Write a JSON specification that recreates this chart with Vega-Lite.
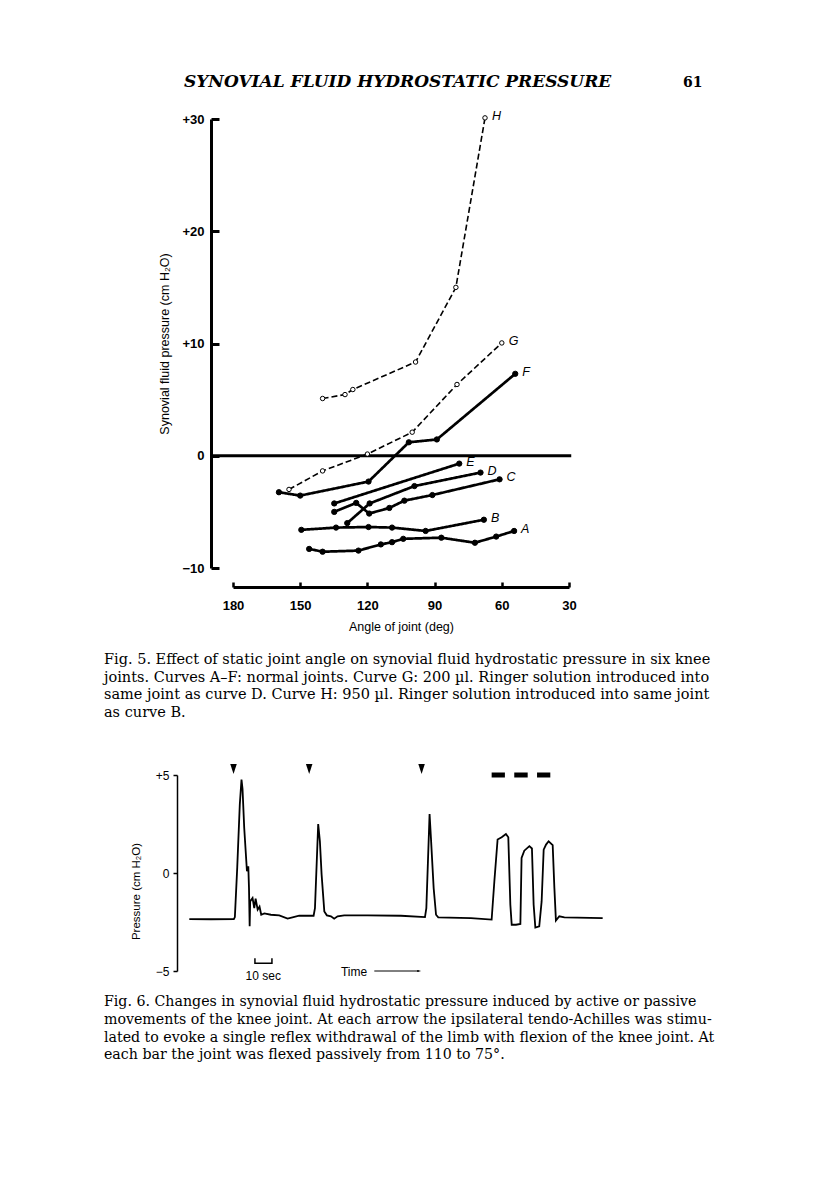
{
  "$schema": "https://vega.github.io/schema/vega-lite/v6.json",
  "background": "white",
  "padding": {"left": 103, "top": 73, "right": 10, "bottom": 10},
  "bounds": "flush",
  "spacing": 207,
  "config": {
    "view": {"stroke": null},
    "axis": {"grid": false, "labelFont": "Liberation Sans", "titleFont": "Liberation Sans", "labelColor": "black", "titleColor": "black", "domainColor": "black", "tickColor": "black", "titleFontWeight": "normal", "labelFlush": false},
    "text": {"font": "Liberation Sans", "color": "black"}
  },
  "datasets": {
    "one": [{"k": 1}],
    "curves": [
      {"curve": "A", "group": "normal", "angle": 146, "pressure": -8.3},
      {"curve": "A", "group": "normal", "angle": 140, "pressure": -8.55},
      {"curve": "A", "group": "normal", "angle": 124, "pressure": -8.45},
      {"curve": "A", "group": "normal", "angle": 114, "pressure": -7.9},
      {"curve": "A", "group": "normal", "angle": 109, "pressure": -7.7},
      {"curve": "A", "group": "normal", "angle": 104, "pressure": -7.4},
      {"curve": "A", "group": "normal", "angle": 87, "pressure": -7.3},
      {"curve": "A", "group": "normal", "angle": 72, "pressure": -7.75},
      {"curve": "A", "group": "normal", "angle": 62.5, "pressure": -7.2},
      {"curve": "A", "group": "normal", "angle": 54.5, "pressure": -6.7},
      {"curve": "B", "group": "normal", "angle": 149.5, "pressure": -6.6},
      {"curve": "B", "group": "normal", "angle": 134, "pressure": -6.4},
      {"curve": "B", "group": "normal", "angle": 119.5, "pressure": -6.35},
      {"curve": "B", "group": "normal", "angle": 109, "pressure": -6.4},
      {"curve": "B", "group": "normal", "angle": 94, "pressure": -6.7},
      {"curve": "B", "group": "normal", "angle": 68, "pressure": -5.7},
      {"curve": "C", "group": "normal", "angle": 134.8, "pressure": -5.0},
      {"curve": "C", "group": "normal", "angle": 125, "pressure": -4.2},
      {"curve": "C", "group": "normal", "angle": 119.2, "pressure": -5.15},
      {"curve": "C", "group": "normal", "angle": 110.2, "pressure": -4.65},
      {"curve": "C", "group": "normal", "angle": 103.5, "pressure": -4.0},
      {"curve": "C", "group": "normal", "angle": 91, "pressure": -3.5},
      {"curve": "C", "group": "normal", "angle": 61, "pressure": -2.1},
      {"curve": "D", "group": "normal", "angle": 129, "pressure": -6.0},
      {"curve": "D", "group": "normal", "angle": 119, "pressure": -4.25},
      {"curve": "D", "group": "normal", "angle": 99, "pressure": -2.7},
      {"curve": "D", "group": "normal", "angle": 69.5, "pressure": -1.5},
      {"curve": "E", "group": "normal", "angle": 134.8, "pressure": -4.25},
      {"curve": "E", "group": "normal", "angle": 79, "pressure": -0.7},
      {"curve": "F", "group": "normal", "angle": 159.5, "pressure": -3.25},
      {"curve": "F", "group": "normal", "angle": 150, "pressure": -3.55},
      {"curve": "F", "group": "normal", "angle": 119.5, "pressure": -2.3},
      {"curve": "F", "group": "normal", "angle": 101.5, "pressure": 1.2},
      {"curve": "F", "group": "normal", "angle": 89, "pressure": 1.45},
      {"curve": "F", "group": "normal", "angle": 54, "pressure": 7.3},
      {"curve": "G", "group": "Ringer", "angle": 155, "pressure": -3.0},
      {"curve": "G", "group": "Ringer", "angle": 140, "pressure": -1.35},
      {"curve": "G", "group": "Ringer", "angle": 120, "pressure": 0.15},
      {"curve": "G", "group": "Ringer", "angle": 100, "pressure": 2.1},
      {"curve": "G", "group": "Ringer", "angle": 80, "pressure": 6.35},
      {"curve": "G", "group": "Ringer", "angle": 60, "pressure": 10.05},
      {"curve": "H", "group": "Ringer", "angle": 140, "pressure": 5.1},
      {"curve": "H", "group": "Ringer", "angle": 130, "pressure": 5.45},
      {"curve": "H", "group": "Ringer", "angle": 126.5, "pressure": 5.9},
      {"curve": "H", "group": "Ringer", "angle": 98.5, "pressure": 8.35},
      {"curve": "H", "group": "Ringer", "angle": 80.5, "pressure": 15.0},
      {"curve": "H", "group": "Ringer", "angle": 67.5, "pressure": 30.1}
    ],
    "trace": [
      {"t": 7.3, "p": -2.35}, {"t": 20, "p": -2.36}, {"t": 33.5, "p": -2.35}, {"t": 34.1, "p": -2.25},
      {"t": 35.5, "p": 0.3}, {"t": 37, "p": 3.5}, {"t": 38, "p": 4.77}, {"t": 38.6, "p": 4.3},
      {"t": 39.6, "p": 2.3}, {"t": 41.2, "p": 0.09}, {"t": 42, "p": 0.34}, {"t": 42.4, "p": -0.76},
      {"t": 42.8, "p": -2.72}, {"t": 43.1, "p": -1.45}, {"t": 44.5, "p": -1.28}, {"t": 45.5, "p": -1.79},
      {"t": 46.3, "p": -1.31}, {"t": 47.5, "p": -1.87}, {"t": 48.6, "p": -1.72}, {"t": 49.6, "p": -2.13},
      {"t": 51.4, "p": -2.06}, {"t": 55.3, "p": -2.13}, {"t": 60.2, "p": -2.16}, {"t": 65.1, "p": -2.33},
      {"t": 68, "p": -2.26}, {"t": 71.9, "p": -2.18}, {"t": 80.4, "p": -2.18}, {"t": 81.2, "p": -1.79},
      {"t": 83.1, "p": 2.5}, {"t": 84.1, "p": 1.62}, {"t": 85.1, "p": -0.07}, {"t": 86.7, "p": -1.96},
      {"t": 88.2, "p": -2.16}, {"t": 90.6, "p": -2.21}, {"t": 92.5, "p": -2.33}, {"t": 94.5, "p": -2.21},
      {"t": 98.4, "p": -2.16}, {"t": 112.2, "p": -2.16}, {"t": 131.8, "p": -2.18}, {"t": 145.9, "p": -2.25},
      {"t": 146.7, "p": -1.79}, {"t": 148.6, "p": 3.01}, {"t": 149.4, "p": 1.79}, {"t": 151, "p": -0.77},
      {"t": 152.4, "p": -2.13}, {"t": 153.7, "p": -2.26}, {"t": 172.9, "p": -2.3}, {"t": 185.1, "p": -2.38},
      {"t": 186.7, "p": -0.42}, {"t": 188.6, "p": 1.71}, {"t": 191, "p": 1.82}, {"t": 193.5, "p": 1.99},
      {"t": 194.9, "p": 1.82}, {"t": 196.1, "p": -1.62}, {"t": 196.9, "p": -2.64}, {"t": 199.4, "p": -2.64},
      {"t": 202, "p": -2.6}, {"t": 202.7, "p": 0.77}, {"t": 204.3, "p": 1.14}, {"t": 207.3, "p": 1.37},
      {"t": 208.8, "p": 1.25}, {"t": 209.8, "p": -1.62}, {"t": 210.8, "p": -2.78}, {"t": 213.1, "p": -2.72},
      {"t": 214.5, "p": -1.45}, {"t": 215.7, "p": 1.19}, {"t": 217.1, "p": 1.45}, {"t": 218.6, "p": 1.62},
      {"t": 221, "p": 1.42}, {"t": 222, "p": -0.77}, {"t": 222.9, "p": -2.43}, {"t": 224.9, "p": -2.21},
      {"t": 227.9, "p": -2.26}, {"t": 250.4, "p": -2.3}
    ],
    "arrows": [{"t": 33.3}, {"t": 77.8}, {"t": 143.9}],
    "bars": [{"t": 185.1, "t2": 192.9}, {"t": 198.4, "t2": 206.3}, {"t": 211.8, "t2": 219.6}],
    "scalebar": [
      {"i": 0, "t": 45.9, "p": -4.35}, {"i": 1, "t": 45.9, "p": -4.6},
      {"i": 2, "t": 55.9, "p": -4.6}, {"i": 3, "t": 55.9, "p": -4.35}
    ]
  },
  "vconcat": [
    {
      "width": 336,
      "height": 449,
      "layer": [
        {
          "data": {"name": "one"},
          "mark": {"type": "rule", "strokeWidth": 3, "color": "black"},
          "encoding": {
            "x": {"datum": 190, "type": "quantitative", "scale": {"domain": [30, 180], "reverse": true}},
            "x2": {"datum": 29},
            "y": {"datum": 0, "type": "quantitative", "scale": {"domain": [-10, 30]}}
          }
        },
        {
          "data": {"name": "curves"},
          "mark": {"type": "line", "color": "black"},
          "encoding": {
            "x": {"field": "angle", "type": "quantitative", "scale": {"domain": [30, 180], "reverse": true},
                  "axis": {"values": [180, 150, 120, 90, 60, 30], "title": "Angle of joint (deg)", "offset": 19,
                           "domainWidth": 3, "tickWidth": 2.5, "tickSize": -5, "labelPadding": 17,
                           "labelFontSize": 13, "labelFontWeight": "bold", "titleFontSize": 12.5, "titlePadding": 8}},
            "y": {"field": "pressure", "type": "quantitative", "scale": {"domain": [-10, 30]},
                  "axis": {"values": [-10, 0, 10, 20, 30], "title": "Synovial fluid pressure (cm H₂O)", "offset": 22,
                           "labelExpr": "datum.value > 0 ? '+' + datum.value : (datum.value < 0 ? '−' + abs(datum.value) : '0')",
                           "domainWidth": 3, "tickWidth": 3, "tickSize": -8, "labelPadding": 15,
                           "labelFontSize": 13, "labelFontWeight": "bold", "titleFontSize": 12.5, "titlePadding": 10}},
            "detail": {"field": "curve"},
            "strokeDash": {"field": "group", "type": "nominal", "scale": {"domain": ["normal", "Ringer"], "range": [[1, 0], [6, 3]]}, "legend": null},
            "strokeWidth": {"field": "group", "type": "nominal", "scale": {"domain": ["normal", "Ringer"], "range": [2.7, 1.6]}, "legend": null}
          }
        },
        {
          "data": {"name": "curves"},
          "mark": {"type": "point", "stroke": "black", "strokeWidth": 1, "opacity": 1},
          "encoding": {
            "x": {"field": "angle", "type": "quantitative", "scale": {"domain": [30, 180], "reverse": true}},
            "y": {"field": "pressure", "type": "quantitative", "scale": {"domain": [-10, 30]}},
            "fill": {"field": "group", "type": "nominal", "scale": {"domain": ["normal", "Ringer"], "range": ["black", "white"]}, "legend": null},
            "size": {"field": "group", "type": "nominal", "scale": {"domain": ["normal", "Ringer"], "range": [28, 20]}, "legend": null}
          }
        },
        {
          "data": {"name": "curves"},
          "transform": [
            {"joinaggregate": [{"op": "min", "field": "angle", "as": "minAngle"}], "groupby": ["curve"]},
            {"filter": "datum.angle === datum.minAngle"}
          ],
          "mark": {"type": "text", "align": "left", "baseline": "middle", "dx": 7, "dy": -2, "fontSize": 12.5, "fontStyle": "italic"},
          "encoding": {
            "x": {"field": "angle", "type": "quantitative", "scale": {"domain": [30, 180], "reverse": true}},
            "y": {"field": "pressure", "type": "quantitative", "scale": {"domain": [-10, 30]}},
            "text": {"field": "curve"}
          }
        },
        {
          "data": {"name": "one"},
          "mark": {"type": "text", "align": "left", "baseline": "alphabetic", "font": "DejaVu Serif", "fontSize": 17, "fontStyle": "italic", "fontWeight": "bold"},
          "encoding": {
            "x": {"datum": 201.9, "type": "quantitative", "scale": {"domain": [30, 180], "reverse": true}},
            "y": {"datum": 32.85, "type": "quantitative", "scale": {"domain": [-10, 30]}},
            "text": {"value": "SYNOVIAL FLUID HYDROSTATIC PRESSURE"}
          }
        },
        {
          "data": {"name": "one"},
          "mark": {"type": "text", "align": "left", "baseline": "alphabetic", "font": "DejaVu Serif", "fontSize": 14, "fontWeight": "bold"},
          "encoding": {
            "x": {"datum": -20.9, "type": "quantitative", "scale": {"domain": [30, 180], "reverse": true}},
            "y": {"datum": 32.85, "type": "quantitative", "scale": {"domain": [-10, 30]}},
            "text": {"value": "61"}
          }
        },
        {
          "data": {"name": "one"},
          "mark": {"type": "text", "align": "left", "baseline": "alphabetic", "font": "DejaVu Serif", "fontSize": 14.5, "lineHeight": 17.6, "lineBreak": "\n"},
          "encoding": {
            "x": {"datum": 237.6, "type": "quantitative", "scale": {"domain": [30, 180], "reverse": true}},
            "y": {"datum": -18.57, "type": "quantitative", "scale": {"domain": [-10, 30]}},
            "text": {"value": "Fig. 5. Effect of static joint angle on synovial fluid hydrostatic pressure in six knee\njoints. Curves A–F: normal joints. Curve G: 200 µl. Ringer solution introduced into\nsame joint as curve D. Curve H: 950 µl. Ringer solution introduced into same joint\nas curve B."}
          }
        }
      ]
    },
    {
      "width": 369,
      "height": 196,
      "layer": [
        {
          "data": {"name": "trace"},
          "mark": {"type": "line", "color": "black", "strokeWidth": 1.8},
          "encoding": {
            "x": {"field": "t", "type": "quantitative", "scale": {"domain": [33, 250]}, "axis": null},
            "y": {"field": "p", "type": "quantitative", "scale": {"domain": [-5, 5]},
                  "axis": {"values": [-5, 0, 5], "title": "Pressure (cm H₂O)", "offset": 56,
                           "labelExpr": "datum.value > 0 ? '+' + datum.value : (datum.value < 0 ? '−' + abs(datum.value) : '0')",
                           "domainWidth": 1.5, "tickWidth": 1.5, "tickSize": 4, "labelPadding": 4,
                           "labelFontSize": 12, "titleFontSize": 11.5, "titlePadding": 14, "titleY": 116}}
          }
        },
        {
          "data": {"name": "arrows"},
          "mark": {"type": "point", "shape": "M-0.65,-1L0.65,-1L0,1Z", "filled": true, "color": "black", "size": 100, "opacity": 1},
          "encoding": {
            "x": {"field": "t", "type": "quantitative", "scale": {"domain": [33, 250]}},
            "y": {"datum": 5.3, "type": "quantitative", "scale": {"domain": [-5, 5]}}
          }
        },
        {
          "data": {"name": "bars"},
          "mark": {"type": "rule", "color": "black", "strokeWidth": 5},
          "encoding": {
            "x": {"field": "t", "type": "quantitative", "scale": {"domain": [33, 250]}},
            "x2": {"field": "t2"},
            "y": {"datum": 5.0, "type": "quantitative", "scale": {"domain": [-5, 5]}}
          }
        },
        {
          "data": {"name": "scalebar"},
          "mark": {"type": "line", "color": "black", "strokeWidth": 1.5},
          "encoding": {
            "x": {"field": "t", "type": "quantitative", "scale": {"domain": [33, 250]}},
            "y": {"field": "p", "type": "quantitative", "scale": {"domain": [-5, 5]}},
            "order": {"field": "i"}
          }
        },
        {
          "data": {"name": "one"},
          "mark": {"type": "text", "align": "center", "baseline": "middle", "fontSize": 12},
          "encoding": {
            "x": {"datum": 50.8, "type": "quantitative", "scale": {"domain": [33, 250]}},
            "y": {"datum": -5.23, "type": "quantitative", "scale": {"domain": [-5, 5]}},
            "text": {"value": "10 sec"}
          }
        },
        {
          "data": {"name": "one"},
          "mark": {"type": "text", "align": "left", "baseline": "middle", "fontSize": 12},
          "encoding": {
            "x": {"datum": 96.5, "type": "quantitative", "scale": {"domain": [33, 250]}},
            "y": {"datum": -5.06, "type": "quantitative", "scale": {"domain": [-5, 5]}},
            "text": {"value": "Time"}
          }
        },
        {
          "data": {"name": "one"},
          "mark": {"type": "rule", "color": "black", "strokeWidth": 1},
          "encoding": {
            "x": {"datum": 116.1, "type": "quantitative", "scale": {"domain": [33, 250]}},
            "x2": {"datum": 142.5},
            "y": {"datum": -5.0, "type": "quantitative", "scale": {"domain": [-5, 5]}}
          }
        },
        {
          "data": {"name": "one"},
          "mark": {"type": "point", "shape": "M-1,-0.5L1,0L-1,0.5Z", "filled": true, "color": "black", "size": 16, "opacity": 1},
          "encoding": {
            "x": {"datum": 142.5, "type": "quantitative", "scale": {"domain": [33, 250]}},
            "y": {"datum": -5.0, "type": "quantitative", "scale": {"domain": [-5, 5]}}
          }
        },
        {
          "data": {"name": "one"},
          "mark": {"type": "text", "align": "left", "baseline": "alphabetic", "font": "DejaVu Serif", "fontSize": 14.2, "lineHeight": 17.6, "lineBreak": "\n"},
          "encoding": {
            "x": {"datum": -42.9, "type": "quantitative", "scale": {"domain": [33, 250]}},
            "y": {"datum": -6.81, "type": "quantitative", "scale": {"domain": [-5, 5]}},
            "text": {"value": "Fig. 6. Changes in synovial fluid hydrostatic pressure induced by active or passive\nmovements of the knee joint. At each arrow the ipsilateral tendo-Achilles was stimu-\nlated to evoke a single reflex withdrawal of the limb with flexion of the knee joint. At\neach bar the joint was flexed passively from 110 to 75°."}
          }
        }
      ]
    }
  ]
}
